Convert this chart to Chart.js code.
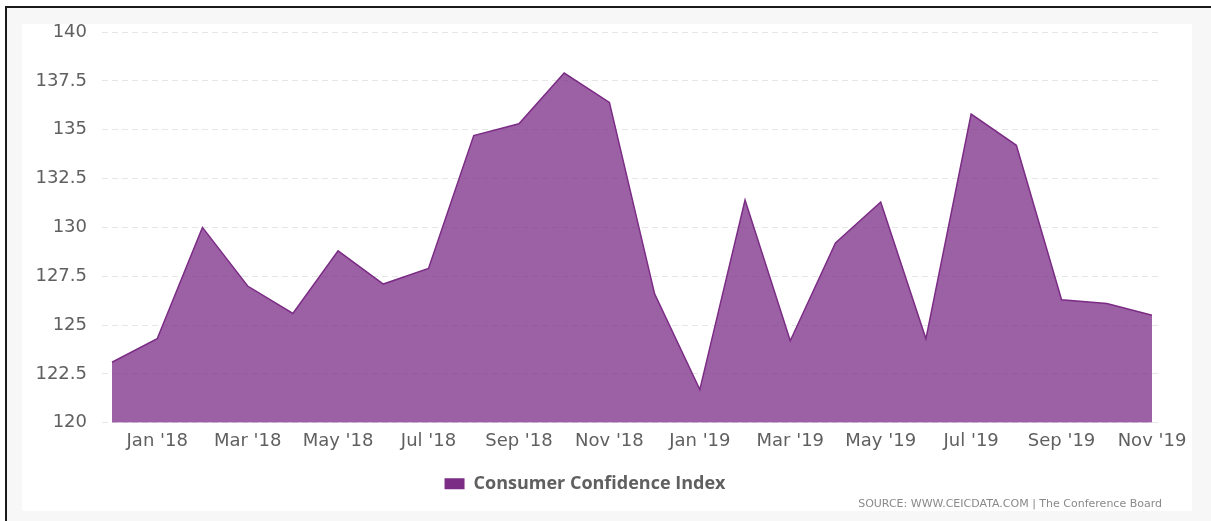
<!DOCTYPE html>
<html>
<head>
<meta charset="utf-8">
<script src="https://cdn.jsdelivr.net/npm/chart.js@4/dist/chart.umd.min.js"></script>
<style>
  html, body { margin: 0; padding: 0; background: #fff; width: 1211px; height: 521px; overflow: hidden; }
  .frame { position: absolute; left: 5px; top: 6px; width: 1206px; height: 515px;
           border-top: 2px solid #1a1a1a; border-left: 2px solid #1a1a1a; background: #f7f7f7; }
  .panel { position: absolute; left: 22px; top: 24px; width: 1170px; height: 487px; background: #fff; }
  #cci-chart { position: absolute; left: 0; top: 24px; display: block; }
</style>
</head>
<body>
<div class="frame"></div>
<div class="panel"></div>
<canvas id="cci-chart" width="1211" height="487"></canvas>
<script>
// ===== Consumer Confidence Index, Dec 2017 - Nov 2019 =====
const months = ["Dec '17", "Jan '18", "Feb '18", "Mar '18", "Apr '18", "May '18", "Jun '18", "Jul '18",
    "Aug '18", "Sep '18", "Oct '18", "Nov '18", "Dec '18", "Jan '19", "Feb '19", "Mar '19",
    "Apr '19", "May '19", "Jun '19", "Jul '19", "Aug '19", "Sep '19", "Oct '19", "Nov '19"];
const cciValues = [123.1, 124.3, 130.0, 127.0, 125.6, 128.8, 127.1, 127.9,
    134.7, 135.3, 137.9, 136.4, 126.6, 121.7, 131.4, 124.2,
    129.2, 131.3, 124.3, 135.8, 134.2, 126.3, 126.1, 125.5];
const labelMonths = [1, 3, 5, 7, 9, 11, 13, 15, 17, 19, 21, 23];
const yTicks = [120, 122.5, 125, 127.5, 130, 132.5, 135, 137.5, 140];

const tickColor = '#606060';
const gridColor = '#e6e6e6';
const axisFont = '"DejaVu Sans", sans-serif';

new Chart(document.getElementById('cci-chart'), {
    type: 'line',
    data: {
        datasets: [{
            label: 'Consumer Confidence Index',
            data: cciValues.map((v, i) => ({ x: i, y: v })),
            borderColor: '#7b2c85',
            backgroundColor: 'rgba(123, 44, 133, 0.75)',
            borderWidth: 1.5,
            fill: 'start',
            pointRadius: 0,
            tension: 0
        }]
    },
    options: {
        responsive: false,
        animation: false,
        layout: { padding: { top: 8, right: 49, left: 8, bottom: 0 } },
        plugins: {
            legend: {
                position: 'bottom',
                labels: {
                    boxWidth: 20, boxHeight: 11, padding: 2,
                    color: tickColor,
                    font: { family: '"Open Sans", sans-serif', size: 18, weight: 'bold' },
                    generateLabels: chart => [{
                        text: 'Consumer Confidence Index', fillStyle: '#7b2c85',
                        strokeStyle: '#7b2c85', lineWidth: 0, fontColor: tickColor, datasetIndex: 0
                    }]
                }
            },
            subtitle: {
                display: true, position: 'bottom', align: 'end',
                text: 'SOURCE: WWW.CEICDATA.COM | The Conference Board',
                color: '#8a8a8a',
                font: { family: axisFont, size: 11 },
                padding: { top: -5, bottom: 0 }
            },
            tooltip: { enabled: false }
        },
        scales: {
            x: {
                type: 'linear',
                min: -0.221, max: 23.221,
                grid: { display: false, drawTicks: false },
                border: { display: false },
                afterBuildTicks: axis => { axis.ticks = labelMonths.map(v => ({ value: v })); },
                afterFit: axis => { axis.height = 50; axis.paddingLeft = 0; axis.paddingRight = 0; },
                ticks: {
                    padding: 8, color: tickColor, autoSkip: false, maxRotation: 0,
                    font: { family: axisFont, size: 18 },
                    callback: v => months[v]
                }
            },
            y: {
                min: 120, max: 140,
                afterBuildTicks: axis => { axis.ticks = yTicks.map(v => ({ value: v })); },
                afterFit: axis => { axis.width = 94; axis.paddingTop = 0; axis.paddingBottom = 0; },
                grid: { color: gridColor, drawTicks: false },
                border: { display: false, dash: [6, 4] },
                ticks: {
                    padding: 15, color: tickColor,
                    font: { family: axisFont, size: 18 }
                }
            }
        }
    }
});
</script>
</body>
</html>
